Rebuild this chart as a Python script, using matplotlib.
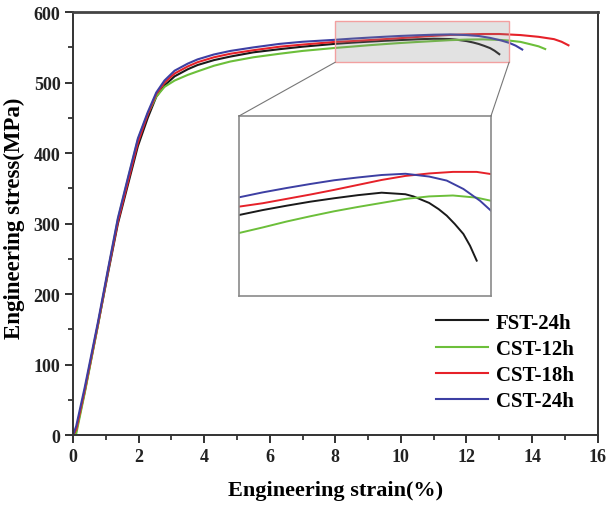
import matplotlib

matplotlib.use("Agg")
import matplotlib.pyplot as plt
from matplotlib.patches import Rectangle, ConnectionPatch

plt.rcParams["font.family"] = ["Liberation Serif", "DejaVu Serif"]
plt.rcParams["font.weight"] = "bold"

# ── data ────────────────────────────────────────────────────────
fst24_x = [0, 0.1, 0.36, 0.76, 1.07, 1.37, 1.68, 1.98, 2.28, 2.54, 2.79, 3.1,
           3.5, 3.8, 4.3, 4.8, 5.5, 6.3, 7.0, 8.0, 8.5, 9.0, 9.5, 10.0,
           10.5, 11.0, 11.5, 11.67, 12.0, 12.2, 12.37, 12.54, 12.72, 12.86,
           13.0]
fst24_y = [0, 6, 62, 156, 230, 300, 356, 410, 450, 480, 496, 509,
           519, 525, 532, 537, 543, 547.5, 551, 555.1, 556.7, 558.1, 559.4,
           560.5, 561.5, 562.3, 561.8, 561.1, 559.0, 557.0, 554.9, 552.2,
           549.0, 545.2, 540.4]

cst12_x = [0, 0.1, 0.36, 0.76, 1.07, 1.37, 1.68, 1.98, 2.28, 2.54, 2.79, 3.1,
           3.5, 3.8, 4.3, 4.8, 5.5, 6.3, 7.0, 8.0, 8.5, 9.0, 9.5, 10.0,
           10.5, 11.0, 11.5, 12.0, 12.5, 13.0, 13.3, 13.65, 13.9, 14.2, 14.4]
cst12_y = [0, 2, 60, 155, 233, 306, 364, 419, 456, 480, 494, 503,
           511, 516, 524, 530, 536, 541, 545, 549.3, 551.1, 553.0, 554.7,
           556.3, 557.7, 559.0, 560.3, 561.1, 561.4, 560.7, 559.7, 557.8,
           555.0, 551.5, 547.7]

cst18_x = [0, 0.1, 0.36, 0.76, 1.07, 1.37, 1.68, 1.98, 2.28, 2.54, 2.79, 3.1,
           3.5, 3.8, 4.3, 4.8, 5.5, 6.3, 7.0, 8.0, 8.5, 9.0, 9.5, 10.0,
           10.5, 11.0, 11.5, 12.0, 12.5, 13.0, 13.3, 13.65, 14.2, 14.67,
           14.9, 15.11]
cst18_y = [0, 8, 64, 157, 233, 303, 360, 415, 455, 484, 500, 513,
           523, 529, 536, 541, 546, 551, 554, 557.8, 558.9, 560.3, 561.7,
           563.2, 564.8, 566.4, 567.7, 568.5, 569.0, 569.0, 568.3, 567.5,
           565.0, 561.7, 558.0, 553.0]

cst24_x = [0, 0.1, 0.36, 0.76, 1.07, 1.37, 1.68, 1.98, 2.28, 2.54, 2.79, 3.1,
           3.5, 3.8, 4.3, 4.8, 5.5, 6.3, 7.0, 8.0, 8.5, 9.0, 9.5, 10.0,
           10.5, 11.0, 11.5, 11.67, 12.0, 12.37, 12.72, 13.07, 13.3, 13.5,
           13.7]
cst24_y = [0, 13, 68, 160, 236, 308, 366, 421, 458, 486, 503, 517,
           527, 533, 540, 545, 550, 555, 558, 560.8, 562.4, 563.8, 565.1,
           566.3, 567.2, 568.0, 568.4, 568.1, 567.5, 566.2, 563.5, 559.7,
           556.5, 552.5, 547.0]

SERIES = [
    ("FST-24h", fst24_x, fst24_y, "#1a1a1a"),
    ("CST-12h", cst12_x, cst12_y, "#6cbf3a"),
    ("CST-18h", cst18_x, cst18_y, "#e62129"),
    ("CST-24h", cst24_x, cst24_y, "#3d3fa3"),
]

ZOOM_X = (8.0, 13.3)
ZOOM_Y = (529, 587)

fig = plt.figure(figsize=(6.08, 5.06), dpi=100)
ax = fig.add_axes([0.120, 0.138, 0.863, 0.836])

for label, x, y, c in SERIES:
    ax.plot(x, y, color=c, linewidth=1.5, label=label)

ax.set_xlim(0, 16)
ax.set_ylim(0, 600)
ax.set_xticks(range(0, 17, 2))
ax.set_xticks(range(1, 16, 2), minor=True)
ax.set_yticks(range(0, 601, 100))
ax.set_yticks(range(50, 600, 100), minor=True)
ax.tick_params(which="major", direction="out", length=6, width=1.3,
               labelsize=13, colors="#222222", pad=3)
ax.tick_params(which="minor", direction="out", length=3.5, width=1.2,
               colors="#222222")
for lbl in ax.get_xticklabels() + ax.get_yticklabels():
    lbl.set_fontweight("bold")
for side in ["left", "bottom", "right"]:
    ax.spines[side].set_linewidth(1.4)
    ax.spines[side].set_color("#333333")
ax.spines["top"].set_linewidth(2.0)
ax.spines["top"].set_color("#444444")

ax.set_xlabel("Engineering strain(%)", fontsize=16, fontweight="bold",
              labelpad=11)
ax.set_ylabel("Engineering stress(MPa)", fontsize=16.5, fontweight="bold")
ax.yaxis.set_label_coords(-0.092, 0.515)

# zoom window on main axes
ax.add_patch(Rectangle((ZOOM_X[0], ZOOM_Y[0]), ZOOM_X[1] - ZOOM_X[0],
                       ZOOM_Y[1] - ZOOM_Y[0], facecolor=(0.55, 0.55, 0.55),
                       alpha=0.25, edgecolor="none", zorder=5))
ax.add_patch(Rectangle((ZOOM_X[0], ZOOM_Y[0]), ZOOM_X[1] - ZOOM_X[0],
                       ZOOM_Y[1] - ZOOM_Y[0], facecolor="none",
                       edgecolor="#f2a0a0", linewidth=1.0, zorder=6))

ax.legend(loc="lower right", bbox_to_anchor=(0.99, 0.012), frameon=False,
          prop={"size": 15, "weight": "bold"}, handlelength=2.5,
          handletextpad=0.35, labelspacing=0.3)

# inset
axin = fig.add_axes([0.393, 0.413, 0.4145, 0.3557])
for label, x, y, c in SERIES:
    axin.plot(x, y, color=c, linewidth=1.4)
axin.set_xlim(*ZOOM_X)
axin.set_ylim(*ZOOM_Y)
axin.set_xticks([])
axin.set_yticks([])
for s in axin.spines.values():
    s.set_color("#8a8a8a")
    s.set_linewidth(1.2)

for xa, xb in [(ZOOM_X[0], 0), (ZOOM_X[1], 1)]:
    con = ConnectionPatch(xyA=(xa, ZOOM_Y[0]), coordsA=ax.transData,
                          xyB=(xb, 1), coordsB=axin.transAxes,
                          color="#777777", linewidth=0.8)
    fig.add_artist(con)

fig.savefig("out.png", dpi=100)
